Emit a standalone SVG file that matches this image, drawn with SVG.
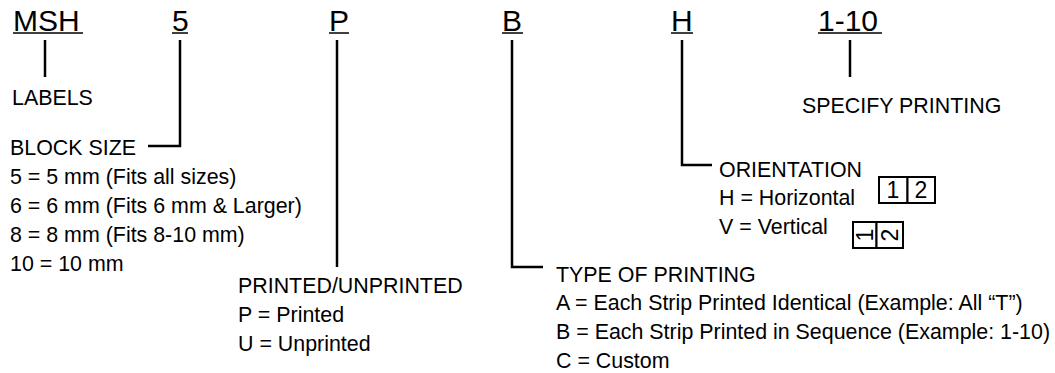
<svg xmlns="http://www.w3.org/2000/svg" width="1055" height="373" viewBox="0 0 1055 373">
<style>
text{font-family:"Liberation Sans",Arial,Helvetica,sans-serif;fill:#000}
.big{font-size:30px}
.t{font-size:21.4px}
.ul{stroke:#000;stroke-width:1.5;fill:none}
.c{stroke:#000;stroke-width:2.5;fill:none}
.box{stroke:#000;stroke-width:2;fill:#fff}
.d{font-size:23px}
</style>
<rect width="1055" height="373" fill="#fff"/>
<g id="code">
<text class="big" x="13" y="31">MSH</text>
<line class="ul" x1="13" y1="33" x2="83" y2="33"/>
<text class="big" x="172" y="31">5</text>
<line class="ul" x1="172" y1="33" x2="188" y2="33"/>
<text class="big" x="329" y="31">P</text>
<line class="ul" x1="329" y1="33" x2="349" y2="33"/>
<text class="big" x="502" y="31">B</text>
<line class="ul" x1="502" y1="33" x2="523" y2="33"/>
<text class="big" x="671" y="31">H</text>
<line class="ul" x1="671" y1="33" x2="693" y2="33"/>
<text class="big" x="818" y="31">1-10</text>
<line class="ul" x1="818" y1="33" x2="882" y2="33"/>
</g>
<g id="connectors">
<path class="c" d="M45,40 V77"/>
<path class="c" d="M180,40 V146 H148"/>
<path class="c" d="M337,40 V267"/>
<path class="c" d="M512,40 V267 H543"/>
<path class="c" d="M682,40 V165 H712"/>
<path class="c" d="M850,40 V77"/>
</g>
<g id="labels">
<text class="t" x="12" y="105">LABELS</text>
</g>
<g id="block-size">
<text class="t" x="10" y="155">BLOCK SIZE</text>
<text class="t" x="10" y="184">5 = 5 mm (Fits all sizes)</text>
<text class="t" x="10" y="213">6 = 6 mm (Fits 6 mm &amp; Larger)</text>
<text class="t" x="10" y="242">8 = 8 mm (Fits 8-10 mm)</text>
<text class="t" x="10" y="271">10 = 10 mm</text>
</g>
<g id="printed">
<text class="t" x="238" y="293">PRINTED/UNPRINTED</text>
<text class="t" x="238" y="322">P = Printed</text>
<text class="t" x="238" y="351">U = Unprinted</text>
</g>
<g id="type-of-printing">
<text class="t" x="556" y="282">TYPE OF PRINTING</text>
<text class="t" x="556" y="310">A = Each Strip Printed Identical (Example: All “T”)</text>
<text class="t" x="556" y="339">B = Each Strip Printed in Sequence (Example: 1-10)</text>
<text class="t" x="556" y="368">C = Custom</text>
</g>
<g id="orientation">
<text class="t" x="719" y="177">ORIENTATION</text>
<text class="t" x="719" y="205">H = Horizontal</text>
<text class="t" x="719" y="234">V = Vertical</text>
<rect class="box" x="879" y="177" width="28.5" height="26"/>
<rect class="box" x="907.5" y="177" width="27.5" height="26"/>
<text class="d" x="893" y="198" text-anchor="middle">1</text>
<text class="d" x="921" y="198" text-anchor="middle">2</text>
<rect class="box" x="853" y="222" width="23.5" height="26"/>
<rect class="box" x="876.5" y="222" width="26.5" height="26"/>
<text class="d" transform="translate(872.5,235) rotate(-90)" text-anchor="middle">1</text>
<text class="d" transform="translate(898,235) rotate(-90)" text-anchor="middle">2</text>
</g>
<g id="specify">
<text class="t" x="802" y="113">SPECIFY PRINTING</text>
</g>
</svg>
